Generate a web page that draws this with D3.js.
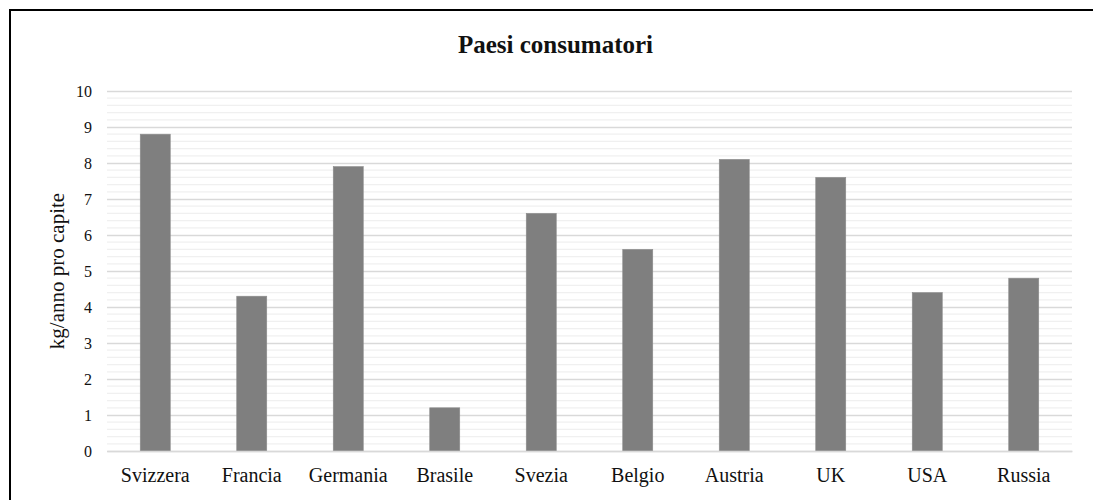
<!DOCTYPE html>
<html>
<head>
<meta charset="utf-8">
<script src="https://cdn.jsdelivr.net/npm/d3@7"></script>
<style>
  html, body { margin: 0; padding: 0; background: #fff; overflow: hidden; }
  svg { display: block; overflow: hidden; }
  text { font-family: "Liberation Serif", "Times New Roman", serif; fill: #111; }
</style>
</head>
<body>
<svg id="chart" width="1093" height="500"></svg>
<script>
// Per-capita chocolate consumption by country (kg/year)
const countries = ["Svizzera", "Francia", "Germania", "Brasile", "Svezia", "Belgio", "Austria", "UK", "USA", "Russia"];
const consumption = [8.8, 4.3, 7.9, 1.2, 6.6, 5.6, 8.1, 7.6, 4.4, 4.8];
const yTicks = [0, 1, 2, 3, 4, 5, 6, 7, 8, 9, 10];
const titleText = "Paesi consumatori";
const yLabel = "kg/anno pro capite";

const svg = d3.select("#chart");
const plot = { left: 107, right: 1072, top: 91, bottom: 451 };

// Chart frame (runs off the right and bottom edges)
svg.append("rect")
  .attr("x", 10).attr("y", 10)
  .attr("width", 1200).attr("height", 600)
  .attr("fill", "#fff")
  .attr("stroke", "#000")
  .attr("stroke-width", 2);

const x = d3.scaleBand()
  .domain(countries)
  .range([plot.left, plot.right])
  .paddingInner(0.689)
  .paddingOuter(0.689 / 2);

const y = d3.scaleLinear()
  .domain([0, 10])
  .range([plot.bottom, plot.top]);

// Minor gridlines every 0.2
const minorTicks = d3.range(0, 10.001, 0.2).filter(v => Math.abs(v - Math.round(v)) > 1e-6);
svg.append("g")
  .selectAll("line")
  .data(minorTicks)
  .join("line")
  .attr("x1", plot.left).attr("x2", plot.right)
  .attr("y1", d => y(d)).attr("y2", d => y(d))
  .attr("stroke", "#f0f0f0")
  .attr("stroke-width", 1.3);

// Major gridlines via the axis generator
const yAxis = d3.axisLeft(y)
  .tickValues(yTicks)
  .tickSize(-(plot.right - plot.left))
  .tickPadding(15)
  .tickFormat(d3.format("d"));

const gy = svg.append("g")
  .attr("transform", `translate(${plot.left},0)`)
  .call(yAxis);
gy.select(".domain").remove();
gy.selectAll(".tick line")
  .attr("stroke", "#d9d9d9")
  .attr("stroke-width", 1.3);
gy.selectAll(".tick text")
  .attr("font-size", 16)
  .attr("font-family", "Liberation Serif, serif")
  .attr("fill", "#111")
  .attr("dy", "0.33em");

// Bars
svg.append("g")
  .selectAll("rect")
  .data(countries)
  .join("rect")
  .attr("x", d => x(d))
  .attr("width", x.bandwidth())
  .attr("y", (d, i) => y(consumption[i]))
  .attr("height", (d, i) => y(0) - y(consumption[i]))
  .attr("fill", "#7f7f7f")
  .attr("stroke", "#8c8c8c")
  .attr("stroke-width", 0.6);

// Category axis
const xAxis = d3.axisBottom(x).tickSize(0).tickPadding(0);
const gx = svg.append("g")
  .attr("transform", `translate(0,${plot.bottom})`)
  .call(xAxis);
gx.select(".domain").attr("stroke", "#d9d9d9").attr("stroke-width", 1.3);
gx.selectAll(".tick text")
  .attr("font-size", 20)
  .attr("font-family", "Liberation Serif, serif")
  .attr("fill", "#111")
  .attr("y", 31)
  .attr("dy", 0);

// Title
svg.append("text")
  .attr("x", 555.5)
  .attr("y", 53)
  .attr("text-anchor", "middle")
  .attr("font-size", 25)
  .attr("font-weight", "bold")
  .attr("fill", "#000")
  .text(titleText);

// Y axis title
svg.append("text")
  .attr("transform", `translate(64,${(plot.top + plot.bottom) / 2}) rotate(-90)`)
  .attr("text-anchor", "middle")
  .attr("font-size", 21)
  .text(yLabel);
</script>
</body>
</html>
